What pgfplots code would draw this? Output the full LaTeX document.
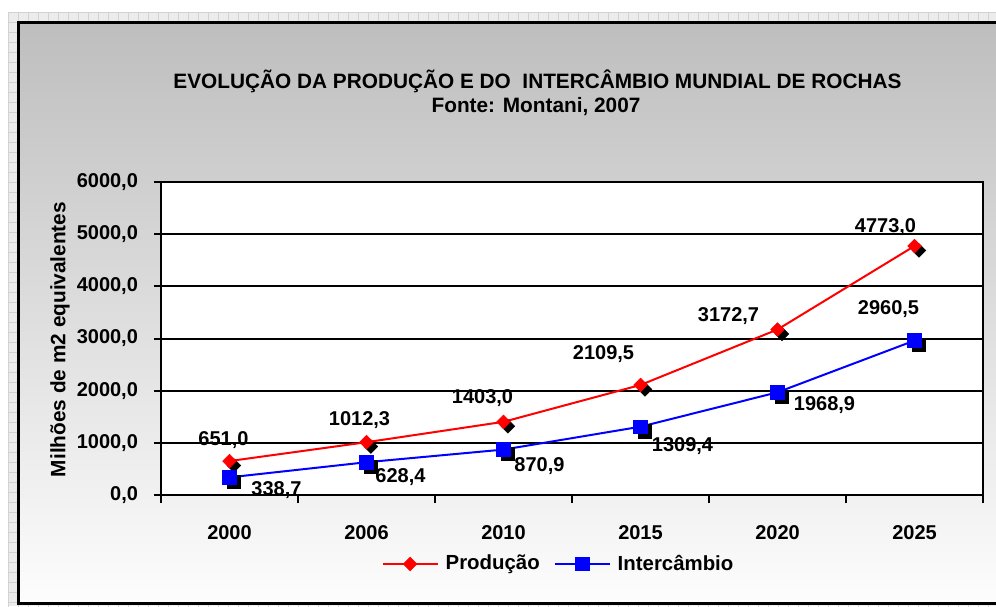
\documentclass[border=0pt]{standalone}
\usepackage{fontspec}
\setmainfont{Liberation Sans}
\usepackage{pgfplots}
\pgfplotsset{compat=1.18}
\usepackage{pgfplotstable}

\definecolor{gridbg}{HTML}{ECECEC}
\definecolor{gridln}{HTML}{D2D2D2}
\definecolor{shadeA}{HTML}{BEBEBE}
\definecolor{shadeB}{HTML}{FDFDFD}

\pgfdeclareplotmark{mydiamond}{%
  \pgfpathmoveto{\pgfqpoint{0pt}{\pgfplotmarksize}}%
  \pgfpathlineto{\pgfqpoint{\pgfplotmarksize}{0pt}}%
  \pgfpathlineto{\pgfqpoint{0pt}{-\pgfplotmarksize}}%
  \pgfpathlineto{\pgfqpoint{-\pgfplotmarksize}{0pt}}%
  \pgfpathclose\pgfusepathqfillstroke}
\pgfdeclareplotmark{shdiamond}{%
  \begin{pgfscope}\pgfsetfillcolor{black}\pgfsetstrokecolor{black}%
  \pgftransformshift{\pgfqpoint{2.2pt}{-2.2pt}}\pgfuseplotmark{mydiamond}\end{pgfscope}%
  \pgfuseplotmark{mydiamond}}
\pgfdeclareplotmark{shsquare}{%
  \begin{pgfscope}\pgfsetfillcolor{black}\pgfsetstrokecolor{black}%
  \pgftransformshift{\pgfqpoint{2.2pt}{-2.2pt}}\pgfuseplotmark{square*}\end{pgfscope}%
  \pgfuseplotmark{square*}}

\pgfplotstableread{
x y lbl dx dy
0 651.0 651,0 -3 10.5
1 1012.3 1012,3 -3.5 11
2 1403.0 1403,0 -10.5 12
3 2109.5 2109,5 -18.5 15.5
4 3172.7 3172,7 -24.5 6.5
5 4773.0 4773,0 -14.5 9.5
}\tabProd

\pgfplotstableread{
x y lbl dx dy
0 338.7 338,7 23.5 -6.5
1 628.4 628,4 17 -7.5
2 870.9 870,9 18 -8
3 1309.4 1309,4 21 -9.5
4 1968.9 1968,9 23.5 -6.5
5 2960.5 2960,5 -13 16
}\tabInter

\begin{document}
\begin{tikzpicture}
\begin{scope}
\clip (0pt,0pt) rectangle (498pt,-303pt);
\fill[white] (0pt,0pt) rectangle (498pt,-303pt);
\fill[gridbg] (4pt,-6pt) rectangle (498pt,-303pt);
\begin{scope}[shift={(4pt,-6pt)}]
\draw[gridln, line width=0.4pt, step=5pt] (0pt,-300pt) grid (500pt,0pt);
\end{scope}
\shade[shading angle=45, top color=shadeA, bottom color=shadeB] (9.25pt,-11.25pt) rectangle (505pt,-301.75pt);
\draw[black, line width=1.5pt] (505pt,-11.25pt) -- (9.25pt,-11.25pt) -- (9.25pt,-301.75pt) -- (505pt,-301.75pt);
\end{scope}

\node[font=\fontsize{10.4}{12}\selectfont\bfseries] at (268.75pt,-40.5pt) {EVOLUÇÃO DA PRODUÇÃO E DO\ \ INTERCÂMBIO MUNDIAL DE ROCHAS};
\node[font=\fontsize{10.4}{12}\selectfont\bfseries] at (268pt,-53.5pt) {Fonte: Montani, 2007};
\node[font=\fontsize{10.4}{12}\selectfont\bfseries, rotate=90] at (30pt,-169.75pt) {Milhões de m2 equivalentes};

\begin{axis}[
  at={(80.5pt,-247.5pt)}, anchor=south west,
  scale only axis, width=411pt, height=156.5pt,
  xmin=-0.5, xmax=5.5, ymin=0, ymax=6000,
  xtick={0,...,5}, xticklabels={2000,2006,2010,2015,2020,2025},
  minor xtick={-0.5,0.5,...,5.5},
  ytick={0,1000,...,6000},
  yticklabels={{0,0},{1000,0},{2000,0},{3000,0},{4000,0},{5000,0},{6000,0}},
  ymajorgrids, major grid style={black, line width=1pt},
  axis line style={black, line width=1.2pt},
  tick align=outside, tick pos=left,
  major tick length=3.5pt, minor tick length=4pt,
  every tick/.style={black, line width=1pt},
  major x tick style={draw=none},
  axis background/.style={fill=white},
  tick label style={font=\bfseries},
  yticklabel style={xshift=-4.5pt},
  xticklabel style={yshift=-8pt},
  legend columns=2,
  legend style={at={(0.4848,-0.2204)}, anchor=center, draw=none, fill=none,
    font=\fontsize{10.2}{12}\selectfont\bfseries, inner sep=0pt,
    /tikz/every odd column/.append style={column sep=1.5pt},
    /tikz/every even column/.append style={column sep=5pt}},
  legend image code/.code={\draw[mark repeat=2, mark phase=2] plot coordinates {(0pt,0pt) (13.75pt,0pt) (27.5pt,0pt)};},
]
\addplot[red, line width=1pt, mark=shdiamond, mark size=3.4pt,
  mark options={fill=red, draw=red, line width=0.3pt},
  nodes near coords, point meta=explicit symbolic,
  visualization depends on={\thisrow{dx} \as \dx},
  visualization depends on={\thisrow{dy} \as \dy},
  nodes near coords style={anchor=center, xshift=\dx pt, yshift=\dy pt, font=\bfseries, text=black},
  forget plot] table[x=x, y=y, meta=lbl] {\tabProd};
\addplot[blue, line width=1pt, mark=shsquare, mark size=3.4pt,
  mark options={fill=blue, draw=blue, line width=0.3pt},
  nodes near coords, point meta=explicit symbolic,
  visualization depends on={\thisrow{dx} \as \dx},
  visualization depends on={\thisrow{dy} \as \dy},
  nodes near coords style={anchor=center, xshift=\dx pt, yshift=\dy pt, font=\bfseries, text=black},
  forget plot] table[x=x, y=y, meta=lbl] {\tabInter};
\addlegendimage{red, line width=1pt, mark=mydiamond, mark size=3.4pt, mark options={fill=red, draw=red, line width=0.3pt}}
\addlegendentry{Produção}
\addlegendimage{blue, line width=1pt, mark=square*, mark size=3.4pt, mark options={fill=blue, draw=blue, line width=0.3pt}}
\addlegendentry{Intercâmbio}
\end{axis}
\end{tikzpicture}
\end{document}
